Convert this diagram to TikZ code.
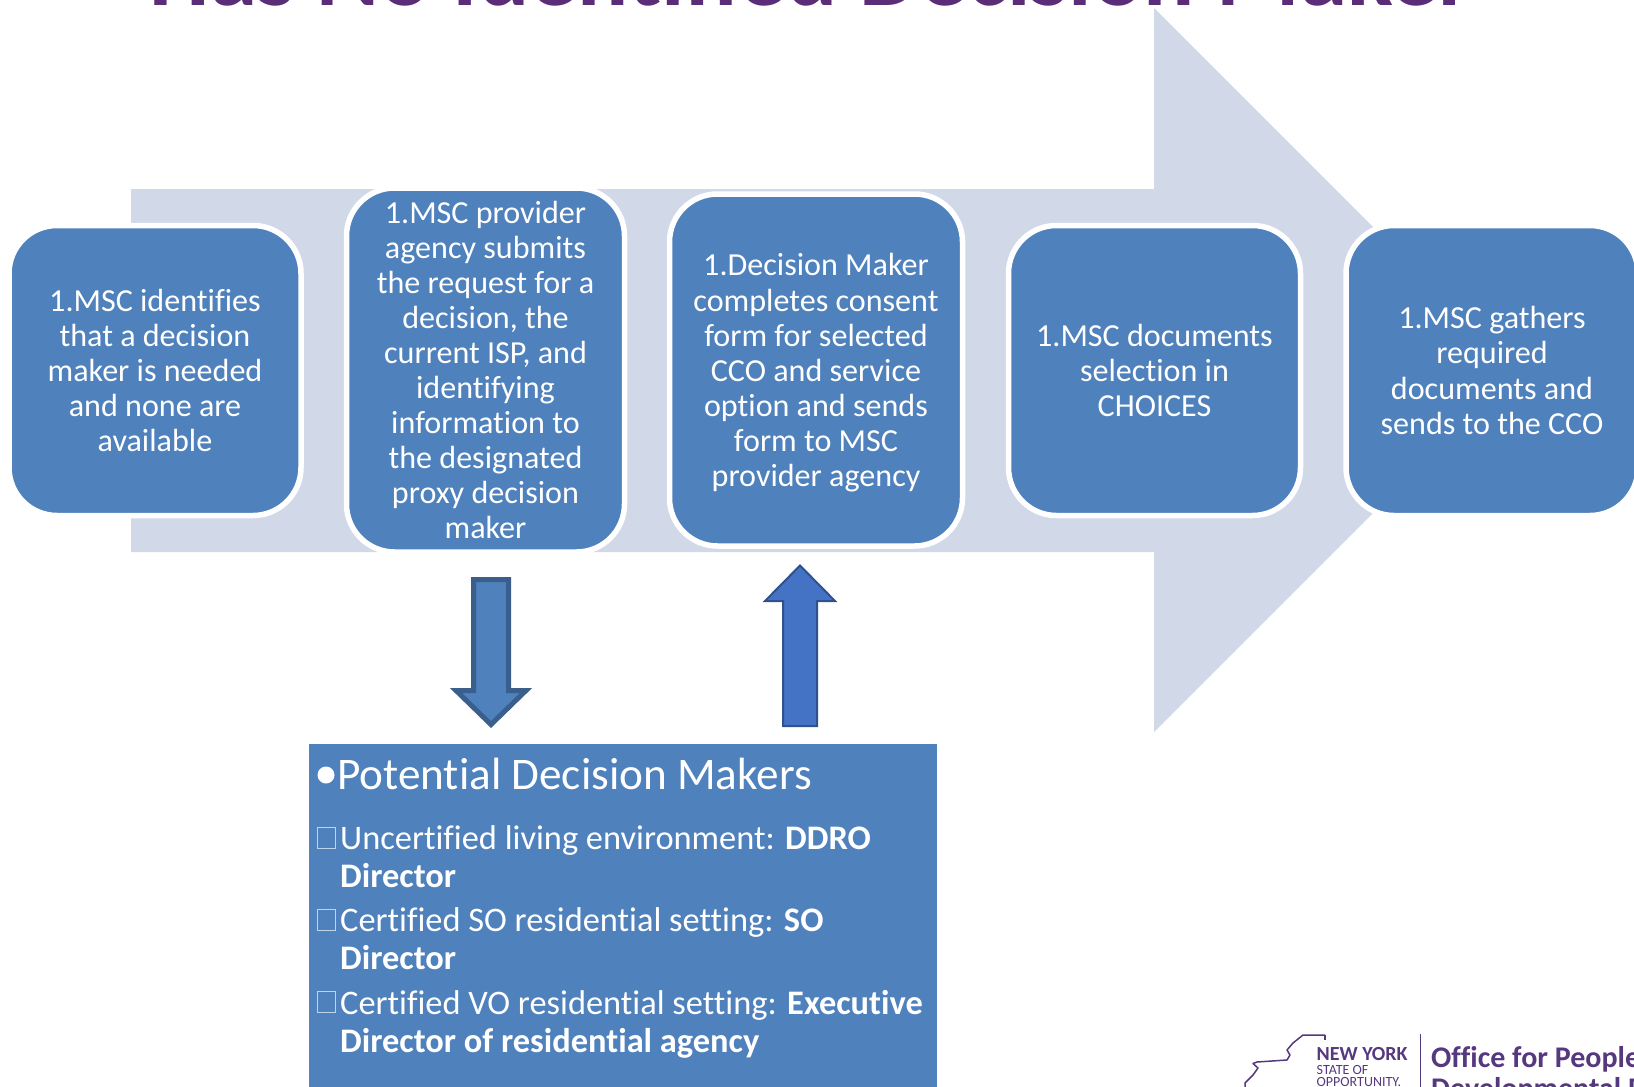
\documentclass[tikz,border=0pt]{standalone}
\usepackage{fontspec}
\setmainfont[Ligatures=NoCommon]{Carlito}
\definecolor{boxblue}{HTML}{4F81BD}
\definecolor{bigarrow}{HTML}{D1D8E8}
\definecolor{downedge}{HTML}{3A5F8D}
\definecolor{upfill}{HTML}{4472C4}
\definecolor{upedge}{HTML}{2F528F}
\definecolor{titlepurple}{HTML}{5B2C78}
\definecolor{logopurple}{HTML}{56387F}
\tikzset{
  stepbox/.style={draw=white,line width=5.5pt,fill=boxblue,rounded corners=48pt,text=white,align=center,inner sep=0pt,
    font=\fontsize{32.1}{35.1}\selectfont},
  listhead/.style={text=white,anchor=base west,inner sep=0pt,font=\fontsize{45.2}{50}\selectfont},
  listline/.style={text=white,anchor=base west,inner sep=0pt,font=\fontsize{34.4}{38}\selectfont},
  emptybox/.style={draw=white!65!boxblue,line width=0.8pt,minimum width=18pt,minimum height=21pt,inner sep=0pt},
  logotext/.style={text=logopurple,anchor=base west,inner sep=0pt}
}
\begin{document}
\begin{tikzpicture}[x=1pt,y=-1pt]
\useasboundingbox (0,0) rectangle (1634,1087);
\clip (0,0) rectangle (1634,1087);
\node[text=titlepurple,anchor=base,inner sep=0pt,font=\fontsize{95.5}{100}\selectfont\bfseries] (title) at (811,5) {Has No Identified Decision Maker};
\fill[bigarrow] (131,189) -- (1154,189) -- (1154,8) -- (1516,370) -- (1154,732) -- (1154,552) -- (131,552) -- cycle;
\node[stepbox,minimum width=292pt,minimum height=290pt] (s1) at (155,370.5) {1.MSC identifies\\that a decision\\maker is needed\\and none are\\available};
\node[stepbox,minimum width=278pt,minimum height=364pt] (s2) at (485.5,370) {1.MSC provider\\agency submits\\the request for a\\decision, the\\current ISP, and\\identifying\\information to\\the designated\\proxy decision\\maker};
\node[stepbox,minimum width=293pt,minimum height=352pt] (s3) at (816,370) {\rule{0pt}{28pt}1.Decision Maker\\completes consent\\form for selected\\CCO and service\\option and sends\\form to MSC\\provider agency};
\node[stepbox,minimum width=292pt,minimum height=290pt] (s4) at (1154.5,370.5) {1.MSC documents\\selection in\\CHOICES};
\node[stepbox,minimum width=292pt,minimum height=290pt] (s5) at (1492,370.5) {1.MSC gathers\\required\\documents and\\sends to the CCO};
\draw[fill=boxblue,draw=downedge,line width=5pt,miter limit=10] (473.5,579.5) -- (508.5,579.5) -- (508.5,690.5) -- (526,690.5) -- (491,724.5) -- (456,690.5) -- (473.5,690.5) -- cycle;
\draw[fill=upfill,draw=upedge,line width=2pt] (800,565.5) -- (835,601) -- (817,601) -- (817,726) -- (783,726) -- (783,601) -- (765,601) -- cycle;
\fill[boxblue] (309,744) rectangle (937,1087);
\node[circle,fill=white,inner sep=0pt,minimum size=17pt] (dot) at (326,775) {};
\node[listhead] (head) at (337,789) {Potential Decision Makers};
\node[emptybox] (b1) at (326,837.5) {};
\node[listline] (l1) at (340,849) {Uncertified living environment: \textbf{DDRO}};
\node[listline] (l2) at (340,887) {\textbf{Director}};
\node[emptybox] (b2) at (326,919.5) {};
\node[listline] (l3) at (340,931) {Certified SO residential setting: \textbf{SO}};
\node[listline] (l4) at (340,969) {\textbf{Director}};
\node[emptybox] (b3) at (326,1002) {};
\node[listline] (l5) at (340,1014) {Certified VO residential setting: \textbf{Executive}};
\node[listline] (l6) at (340,1052) {\textbf{Director of residential agency}};
\draw[logopurple,line width=1.5pt,line join=round] (1325,1035) -- (1303,1035) -- (1293,1043) -- (1287,1050) -- (1290,1055) -- (1287,1060) -- (1257,1062) -- (1253,1063.5) -- (1258,1068) -- (1253,1075) -- (1245,1083) -- (1245,1087);
\draw[logopurple,line width=1.5pt] (1325,1035) -- (1325,1040);
\node[logotext,font=\fontsize{20}{22}\selectfont\bfseries] (ny) at (1316.5,1060) {NEW YORK};
\node[logotext,font=\fontsize{14}{15}\selectfont] (st) at (1316.5,1074) {STATE OF};
\node[logotext,font=\fontsize{14}{15}\selectfont] (op) at (1316.5,1086) {OPPORTUNITY.};
\draw[logopurple,line width=1pt] (1420,1034) -- (1420,1087);
\node[logotext,font=\fontsize{30}{33}\selectfont\bfseries] (o1) at (1431,1067) {Office for People};
\node[logotext,font=\fontsize{30}{33}\selectfont\bfseries] (o2) at (1431,1098) {Developmental Disabilities};
\end{tikzpicture}
\end{document}
